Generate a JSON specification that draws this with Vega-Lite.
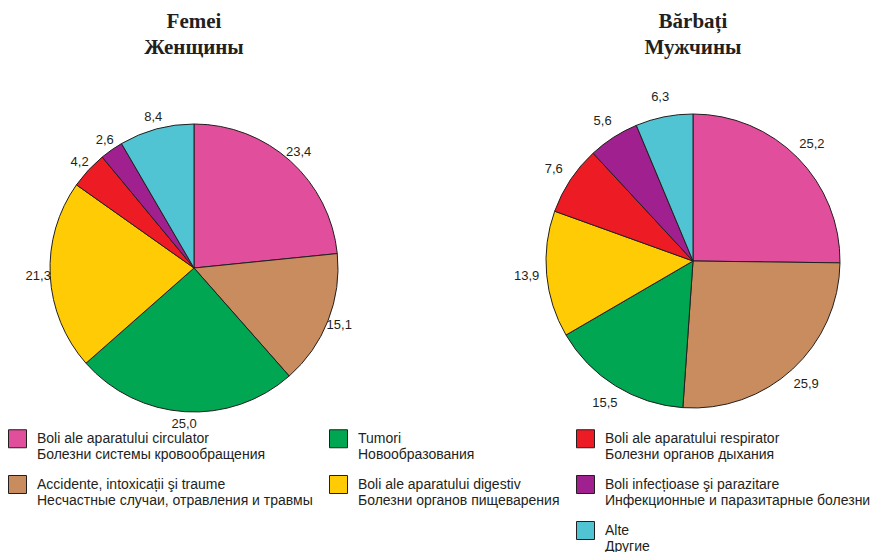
{
  "$schema": "https://vega.github.io/schema/vega-lite/v6.json",
  "padding": {"left": 8, "top": 11, "right": 0, "bottom": 0},
  "background": "white",
  "data": {"values": [
    {"sex": "F", "ord": 1, "v": 23.4, "cat": "Boli ale aparatului circulator|Болезни системы кровообращения"},
    {"sex": "F", "ord": 2, "v": 15.1, "cat": "Accidente, intoxicații şi traume|Несчастные случаи, отравления и травмы"},
    {"sex": "F", "ord": 3, "v": 25.0, "cat": "Tumori|Новообразования"},
    {"sex": "F", "ord": 4, "v": 21.3, "cat": "Boli ale aparatului digestiv|Болезни органов пищеварения"},
    {"sex": "F", "ord": 5, "v": 4.2, "cat": "Boli ale aparatului respirator|Болезни органов дыхания"},
    {"sex": "F", "ord": 6, "v": 2.6, "cat": "Boli infecțioase şi parazitare|Инфекционные и паразитарные болезни"},
    {"sex": "F", "ord": 7, "v": 8.4, "cat": "Alte|Другие"},
    {"sex": "M", "ord": 1, "v": 25.2, "cat": "Boli ale aparatului circulator|Болезни системы кровообращения"},
    {"sex": "M", "ord": 2, "v": 25.9, "cat": "Accidente, intoxicații şi traume|Несчастные случаи, отравления и травмы"},
    {"sex": "M", "ord": 3, "v": 15.5, "cat": "Tumori|Новообразования"},
    {"sex": "M", "ord": 4, "v": 13.9, "cat": "Boli ale aparatului digestiv|Болезни органов пищеварения"},
    {"sex": "M", "ord": 5, "v": 7.6, "cat": "Boli ale aparatului respirator|Болезни органов дыхания"},
    {"sex": "M", "ord": 6, "v": 5.6, "cat": "Boli infecțioase şi parazitare|Инфекционные и паразитарные болезни"},
    {"sex": "M", "ord": 7, "v": 6.3, "cat": "Alte|Другие"}
  ]},
  "hconcat": [
    {
      "title": {"text": ["Femei", "Женщины"]},
      "width": 372,
      "height": 372,
      "transform": [{"filter": "datum.sex == 'F'"}],
      "encoding": {
        "theta": {"field": "v", "type": "quantitative", "stack": true},
        "order": {"field": "ord", "type": "quantitative"}
      },
      "layer": [
        {
          "mark": {"type": "arc", "outerRadius": 144, "stroke": "#231f20", "strokeWidth": 1},
          "encoding": {
            "color": {
              "field": "cat", "type": "nominal",
              "scale": {
                "domain": [
                  "Boli ale aparatului circulator|Болезни системы кровообращения",
                  "Accidente, intoxicații şi traume|Несчастные случаи, отравления и травмы",
                  " ",
                  "Tumori|Новообразования",
                  "Boli ale aparatului digestiv|Болезни органов пищеварения",
                  "  ",
                  "Boli ale aparatului respirator|Болезни органов дыхания",
                  "Boli infecțioase şi parazitare|Инфекционные и паразитарные болезни",
                  "Alte|Другие"
                ],
                "range": ["#e04e9c", "#c98c5e", "transparent", "#00a651", "#ffcb05", "transparent", "#ed1c24", "#a0208f", "#50c4d2"]
              },
              "legend": {
                "orient": "none",
                "legendX": 0,
                "legendY": 347,
                "columns": 3,
                "title": null,
                "labelExpr": "split(datum.label, '|')",
                "encode": {"symbols": {"update": {"strokeOpacity": {"signal": "length(trim(datum.value)) == 0 ? 0 : 1"}}}}
              }
            }
          }
        },
        {
          "mark": {"type": "text", "radius": 156, "fontSize": 13, "font": "Liberation Sans", "color": "#231f20"},
          "encoding": {"text": {"field": "v", "type": "quantitative", "format": ".1f"}}
        }
      ]
    },
    {
      "title": {"text": ["Bărbați", "Мужчины"]},
      "width": 360,
      "height": 358,
      "transform": [{"filter": "datum.sex == 'M'"}],
      "encoding": {
        "theta": {"field": "v", "type": "quantitative", "stack": true},
        "order": {"field": "ord", "type": "quantitative"}
      },
      "layer": [
        {
          "mark": {"type": "arc", "outerRadius": 147, "stroke": "#231f20", "strokeWidth": 1},
          "encoding": {"color": {"field": "cat", "type": "nominal"}}
        },
        {
          "mark": {"type": "text", "radius": 167, "fontSize": 13, "font": "Liberation Sans", "color": "#231f20"},
          "encoding": {"text": {"field": "v", "type": "quantitative", "format": ".1f"}}
        }
      ]
    }
  ],
  "spacing": 133,
  "config": {
    "locale": {"number": {"decimal": ",", "thousands": ".", "grouping": [3], "currency": ["", ""]}},
    "view": {"stroke": null},
    "title": {"font": "Liberation Serif", "fontSize": 21, "fontWeight": "bold", "lineHeight": 26, "color": "#231f20", "anchor": "middle", "offset": 24},
    "legend": {
      "symbolType": "square",
      "symbolSize": 324,
      "symbolStrokeColor": "#231f20",
      "symbolStrokeWidth": 1,
      "symbolOpacity": 1,
      "labelFont": "Liberation Sans",
      "labelFontSize": 14,
      "labelColor": "#231f20",
      "labelLimit": 400,
      "labelOffset": 10,
      "columnPadding": 14,
      "rowPadding": 11
    }
  }
}
